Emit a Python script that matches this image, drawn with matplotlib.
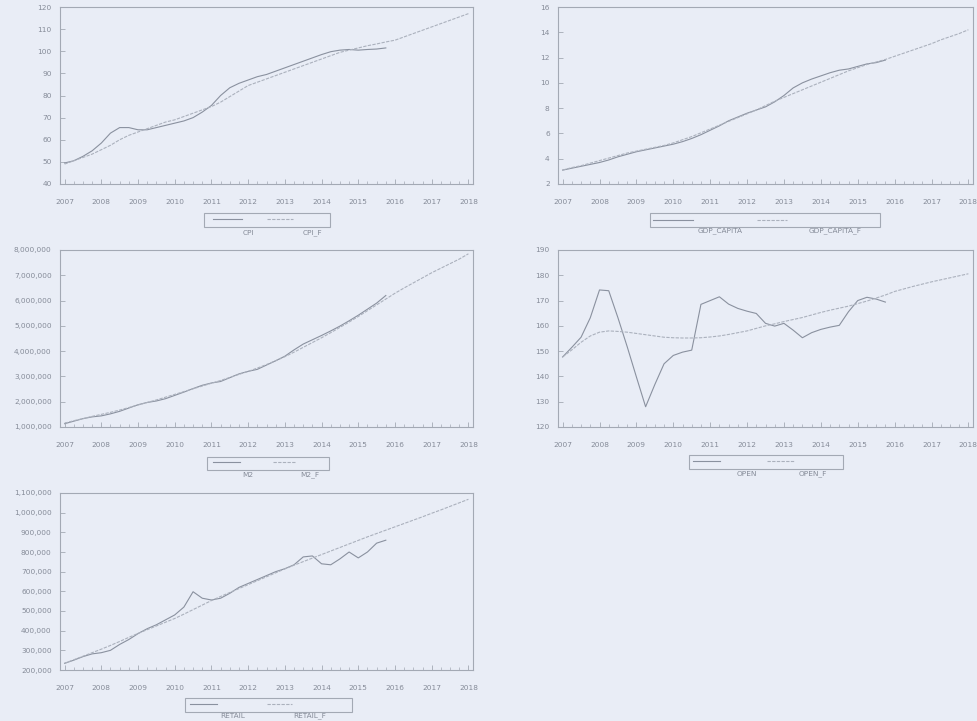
import numpy as np
import pandas as pd
import matplotlib
matplotlib.use('Agg')
import matplotlib.pyplot as plt
from matplotlib.patches import Rectangle
from matplotlib.lines import Line2D
from matplotlib.ticker import FuncFormatter, FixedLocator

W, H = 978, 721

# ---------------- data (quarterly, 2007Q1 .. 2018Q1) ----------------
quarters = pd.period_range('2007Q1', '2018Q1', freq='Q')
year_labels = [str(y) for y in range(2007, 2019)]

cpi = [49.5, 50.5, 52.5, 55.0, 58.5, 63.0, 65.5, 65.5, 64.5, 64.5, 65.5, 66.5,
       67.5, 68.5, 70.0, 72.5, 75.5, 80.0, 83.5, 85.5, 87.0, 88.5, 89.5, 91.0,
       92.5, 94.0, 95.5, 97.0, 98.5, 99.8, 100.5, 100.8, 100.5, 100.8, 101.0, 101.5]
cpi_f = [49.0, 50.5, 52.0, 53.5, 55.5, 57.5, 60.0, 62.0, 63.5, 65.0, 66.5, 68.0,
         69.0, 70.5, 72.0, 73.5, 75.0, 77.0, 79.5, 82.0, 84.5, 86.0, 87.5, 89.0,
         90.5, 92.0, 93.5, 95.0, 96.5, 98.0, 99.5, 100.5, 101.5, 102.5, 103.3, 104.2,
         105.0, 106.5, 108.0, 109.5, 111.0, 112.5, 114.0, 115.5, 117.0]

gdp_capita = [3.1, 3.25, 3.4, 3.55, 3.7, 3.9, 4.15, 4.35, 4.55, 4.7, 4.85, 5.0,
              5.15, 5.35, 5.6, 5.9, 6.25, 6.6, 7.0, 7.3, 7.6, 7.85, 8.1, 8.5,
              9.0, 9.6, 10.0, 10.3, 10.55, 10.8, 11.0, 11.1, 11.3, 11.5, 11.6, 11.8]
gdp_capita_f = [3.1, 3.3, 3.45, 3.65, 3.85, 4.05, 4.25, 4.45, 4.6, 4.75, 4.9, 5.05,
                5.25, 5.5, 5.75, 6.05, 6.35, 6.65, 6.95, 7.25, 7.55, 7.85, 8.2, 8.55,
                8.85, 9.15, 9.45, 9.75, 10.05, 10.35, 10.65, 10.95, 11.2, 11.45, 11.65, 11.85,
                12.1, 12.35, 12.6, 12.85, 13.1, 13.4, 13.65, 13.9, 14.2]

m2 = [1.13, 1.23, 1.33, 1.40, 1.44, 1.52, 1.62, 1.75, 1.88, 1.97, 2.03, 2.12,
      2.25, 2.38, 2.52, 2.65, 2.74, 2.80, 2.95, 3.10, 3.20, 3.28, 3.45, 3.62,
      3.80, 4.05, 4.28, 4.45, 4.62, 4.80, 4.99, 5.20, 5.42, 5.66, 5.90, 6.20]
m2_f = [1.15, 1.25, 1.33, 1.42, 1.50, 1.58, 1.67, 1.77, 1.87, 1.97, 2.07, 2.18,
        2.29, 2.40, 2.51, 2.62, 2.73, 2.84, 2.96, 3.08, 3.20, 3.33, 3.47, 3.62,
        3.78, 3.96, 4.15, 4.34, 4.53, 4.73, 4.94, 5.15, 5.37, 5.60, 5.83, 6.06,
        6.29, 6.50, 6.70, 6.90, 7.10, 7.28, 7.46, 7.64, 7.85]
m2 = [v * 1e6 for v in m2]
m2_f = [v * 1e6 for v in m2_f]

open_ = [147.7, 151.5, 155.5, 163.2, 174.2, 173.9, 163.2, 151.8, 139.8, 128.0, 136.8, 145.0,
         148.3, 149.6, 150.4, 168.5, 170.0, 171.5, 168.6, 166.9, 165.8, 164.9, 161.0, 159.9,
         161.0, 158.3, 155.3, 157.3, 158.6, 159.5, 160.2, 165.6, 170.0, 171.3, 170.6, 169.4]
open_f = [147.7, 150.5, 153.5, 156.0, 157.5, 158.0, 157.8, 157.5, 157.0, 156.5, 156.0, 155.5,
          155.3, 155.2, 155.2, 155.3, 155.6, 156.0, 156.6, 157.3, 158.0, 159.0, 160.0, 160.8,
          161.7, 162.5, 163.3, 164.3, 165.3, 166.2, 167.0, 167.8, 168.8, 169.8, 171.0, 172.2,
          173.6, 174.6, 175.6, 176.5, 177.4, 178.2, 179.0, 179.8, 180.6]

retail = [234, 250, 268, 282, 288, 300, 330, 355, 385, 410, 430, 455,
          480, 520, 598, 565, 556, 565, 590, 620, 640, 660, 680, 700,
          715, 735, 775, 780, 740, 735, 765, 800, 770, 800, 845, 860]
retail_f = [234, 252, 270, 288, 306, 325, 345, 366, 386, 405, 424, 443,
            462, 484, 507, 530, 553, 574, 594, 614, 634, 654, 674, 694,
            714, 733, 751, 769, 787, 805, 823, 841, 859, 877, 894, 911,
            928, 945, 962, 979, 997, 1014, 1032, 1050, 1068]
retail = [v * 1e3 for v in retail]
retail_f = [v * 1e3 for v in retail_f]

# ---------------- style ----------------
BG = '#e9edf6'
AXC = '#a3a9b4'
TXT = '#858b98'
C_ACT = '#8a919f'
C_FC = '#abb1bd'
FS = 5.3

fig = plt.figure(figsize=(W / 100, H / 100), dpi=100, facecolor=BG)

t = quarters.year + (quarters.quarter - 1) / 4.0
years = np.arange(2007, 2019)


def px_axes(x0, x1, y0, y1):
    return fig.add_axes([x0 / W, 1 - y1 / H, (x1 - x0) / W, (y1 - y0) / H])


def comma(v, pos):
    return '{:,.0f}'.format(v)


def plain(v, pos):
    return '{:g}'.format(v)


def panel(box, act, fc, yticks, fmt):
    ax = px_axes(*box)
    ax.set_facecolor(BG)
    ax.plot(t[:len(act)], act, color=C_ACT, lw=0.8, solid_joinstyle='round')
    ax.plot(t[:len(fc)], fc, color=C_FC, lw=0.8, dashes=(3, 1.2))
    ax.set_xlim(2007 - 0.125, 2018 + 0.125)
    ax.set_ylim(yticks[0], yticks[-1])
    ax.yaxis.set_major_locator(FixedLocator(yticks))
    ax.yaxis.set_major_formatter(FuncFormatter(fmt))
    ax.set_xticks(years)
    ax.set_xticklabels(year_labels)
    ax.set_xticks(t, minor=True)
    ax.tick_params(axis='both', which='major', direction='in', length=3.5, width=0.6,
                   color=AXC, labelcolor=TXT, labelsize=FS)
    ax.tick_params(axis='x', which='major', pad=11)
    ax.tick_params(axis='y', which='major', pad=6)
    ax.tick_params(axis='x', which='minor', direction='in', length=2, width=0.5, color=AXC)
    for s in ax.spines.values():
        s.set_color(AXC)
        s.set_linewidth(0.8)
    return ax


def legend(box, s1, s2, ly, names, name_x, name_y):
    x0, x1, y0, y1 = box
    fig.patches.append(Rectangle((x0 / W, 1 - y1 / H), (x1 - x0) / W, (y1 - y0) / H,
                                 transform=fig.transFigure, fill=False,
                                 edgecolor=AXC, lw=0.8))
    fig.lines.append(Line2D([s1[0] / W, s1[1] / W], [1 - ly / H] * 2,
                            transform=fig.transFigure, color=C_ACT, lw=0.8))
    fig.lines.append(Line2D([s2[0] / W, s2[1] / W], [1 - ly / H] * 2,
                            transform=fig.transFigure, color=C_FC, lw=0.8,
                            dashes=(3, 1.2)))
    for nm, nx in zip(names, name_x):
        fig.text(nx / W, 1 - name_y / H, nm, ha='center', va='center',
                 fontsize=FS, color=TXT)


panel((60, 473, 7, 184), cpi, cpi_f, list(range(40, 121, 10)), plain)
legend((204, 330, 213, 227), (213, 242), (267, 293), 219,
       ['CPI', 'CPI_F'], [248, 312], 233)

panel((558, 973, 7, 184), gdp_capita, gdp_capita_f, list(range(2, 17, 2)), plain)
legend((650, 880, 213, 227), (653, 693), (757, 787), 220,
       ['GDP_CAPITA', 'GDP_CAPITA_F'], [720, 835], 231)

panel((60, 473, 250, 427), m2, m2_f, [i * 1e6 for i in range(1, 9)], comma)
legend((207, 329, 457, 470), (213, 240), (273, 295), 462,
       ['M2', 'M2_F'], [248, 310], 475)

panel((558, 973, 250, 427), open_, open_f, list(range(120, 191, 10)), plain)
legend((689, 843, 455, 469), (693, 720), (767, 795), 461,
       ['OPEN', 'OPEN_F'], [747, 813], 474)

panel((60, 473, 493, 670), retail, retail_f, [i * 1e5 for i in range(2, 12)], comma)
legend((185, 352, 698, 712), (190, 217), (267, 292), 704,
       ['RETAIL', 'RETAIL_F'], [233, 310], 716)

fig.savefig('out.png', dpi=100, facecolor=BG)
